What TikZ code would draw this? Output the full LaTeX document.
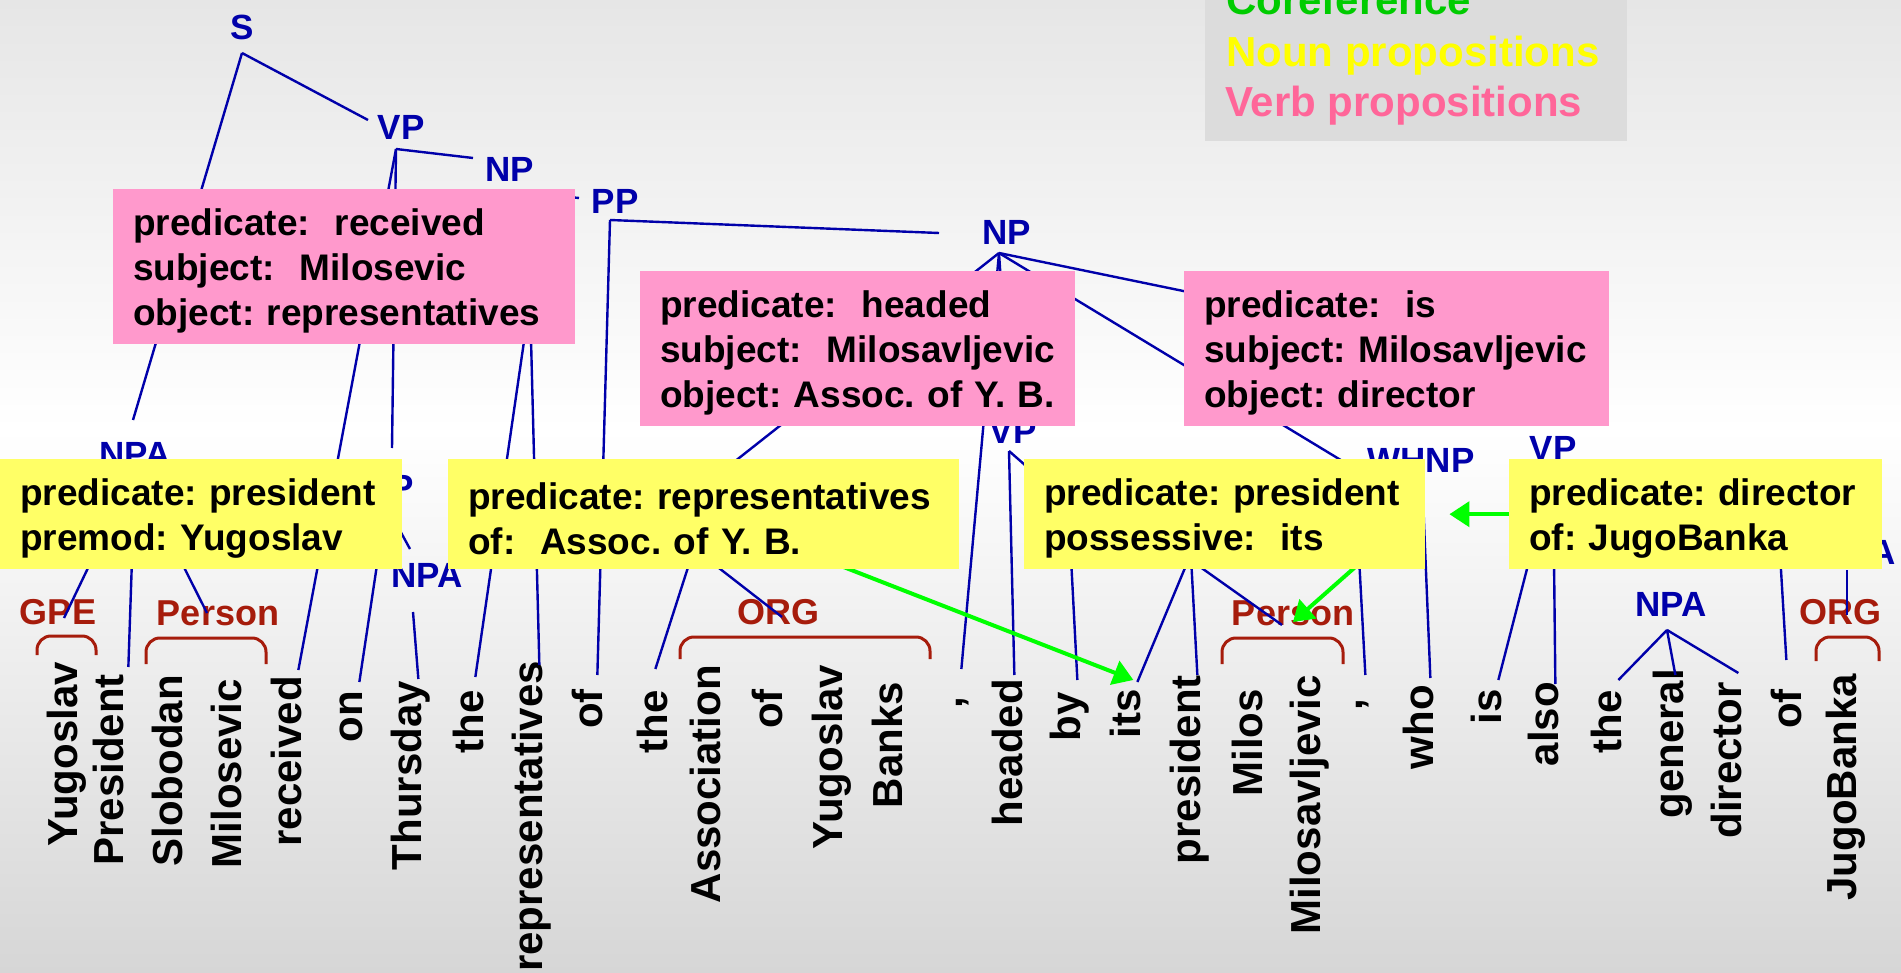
\documentclass[tikz,border=0pt]{standalone}
\usepackage{fontspec}
\setmainfont{Liberation Sans}
\usepackage{tikz}
\usetikzlibrary{arrows.meta, positioning, calc}

\definecolor{treeblue}{HTML}{0000AA}
\definecolor{entred}{HTML}{A61C0C}
\definecolor{verbpink}{HTML}{FF99CC}
\definecolor{nounyellow}{HTML}{FFFF66}
\definecolor{corefgreen}{HTML}{00FF00}
\definecolor{legendgreen}{HTML}{00CC00}
\definecolor{legendyellow}{HTML}{FFFF00}
\definecolor{legendpink}{HTML}{FF6699}
\definecolor{legendgrey}{HTML}{DCDCDC}
\definecolor{bgtop}{HTML}{E6E6E6}
\definecolor{bgbottom}{HTML}{D6D6D6}

\frenchspacing
\tikzset{
  cat/.style={text=treeblue, inner sep=0pt, font=\fontsize{35}{35}\selectfont\bfseries},
  ent/.style={text=entred, inner sep=0pt, font=\fontsize{36}{36}\selectfont\bfseries},
  word/.style={rotate=90, anchor=base east, inner sep=0pt, font=\fontsize{42}{42}\selectfont\bfseries},
  branch/.style={draw=treeblue, line width=2.4pt},
  bracket/.style={draw=entred, line width=3pt, rounded corners=14pt},
  coref/.style={draw=corefgreen, line width=4pt, -{Triangle[length=20pt, width=25pt]}},
  propbox/.style={anchor=north west, align=left, inner xsep=20pt, inner ysep=0pt,
    font={\fontsize{37}{45}\selectfont\bfseries\frenchspacing\hyphenpenalty=10000 },
    execute at begin node={\rule{0pt}{35pt}}},
  verb prop/.style={propbox, fill=verbpink, minimum height=155pt},
  noun prop/.style={propbox, fill=nounyellow, minimum height=110pt},
  legend/.style={anchor=base west, inner sep=0pt, font=\fontsize{42}{42}\selectfont\bfseries},
}

\begin{document}
\begin{tikzpicture}[x=1pt, y=-1pt]

    % background
    \useasboundingbox (0,0) rectangle (1901,973);
    \shade[top color=bgtop, bottom color=white] (0,0) rectangle (1901,430);
    \shade[top color=white, bottom color=bgbottom] (0,430) rectangle (1901,973);

    % legend
    \fill[legendgrey] (1205,-5) rectangle (1627,141);
    \node[legend, text=legendgreen] (leg-coref) at (1226,15) {Coreference};
    \node[legend, text=legendyellow] (leg-noun) at (1226,67) {Noun propositions};
    \node[legend, text=legendpink] (leg-verb) at (1225,117) {Verb propositions};

    % named entities
    \foreach \a/\b/\t/\e in {37/96/636/655, 146/266/638/664, 680/930/637/659,
                             1222/1343/638/664, 1816/1879/637/661}
    \draw[bracket] (\a,\e) -- (\a,\t) -- (\b,\t) -- (\b,\e);

    \node[ent] (gpe) at (58,612) {GPE};
    \node[ent] (per1) at (218,613) {Person};
    \node[ent] (org1) at (778,612) {ORG};
    \node[ent] (per2) at (1293,613) {Person};
    \node[ent] (org2) at (1840,612) {ORG};

    % parse tree categories
    \node[cat] (S) at (242,27) {S};
    \node[cat] (VP1) at (401,127) {VP};
    \node[cat] (NP1) at (510,169) {NP};
    \node[cat] (PP2) at (615,201) {PP};
    \node[cat] (NP2) at (1007,232) {NP};
    \node[cat] (NPA1) at (135,454) {NPA};
    \node[cat] (PP1) at (390,487) {PP};
    \node[cat] (NPA2) at (427,575) {NPA};
    \node[cat] (VP2) at (1013,431) {VP};
    \node[cat] (WHNP) at (1421,460) {WHNP};
    \node[cat] (VP3) at (1553,448) {VP};
    \node[cat] (NPA3) at (1671,604) {NPA};
    \node[cat] (NPA4) at (1860,552) {NPA};

    % sentence
    \foreach \t/\x/\y [count=\i] in {
        Yugoslav/77/662, President/123/674, Slobodan/182/675, Milosevic/241/679,
        received/301/676, on/362/691, Thursday/421/681, the/483/690,
        representatives/542/661, of/602/689, the/667/690, Association/720/665,
        of/782/689, Yugoslav/842/665, Banks/902/682, {,}/962/697,
        headed/1022/679, by/1080/692, its/1140/689, president/1200/675,
        Milos/1262/689, Milosavljevic/1320/675, {,}/1362/699, who/1433/685,
        is/1501/689, also/1558/682, the/1621/690, general/1683/669,
        director/1741/682, of/1801/689, JugoBanka/1856/674}
    \node[word] (w\i) at (\x,\y) {\t};

    % branch points (some lie under the proposition boxes)
    \coordinate (S-a) at (242,53);
    \coordinate (VP1-t) at (368,120);
    \coordinate (VP1-a) at (396,149);
    \coordinate (NPA1-t) at (133,420);
    \coordinate (NPA1-a) at (135,470);
    \coordinate (NP1-t) at (473,158);
    \coordinate (NP1-a) at (515,192);
    \coordinate (PP2-t) at (579,198);
    \coordinate (PP1-t) at (392,448);
    \coordinate (PP1-a) at (386,505);
    \coordinate (NPA2-t) at (410,549);
    \coordinate (NPA2-a) at (413,612);
    \coordinate (NP3-a) at (530,300);
    \coordinate (PP2-a) at (610,220);
    \coordinate (NP2-t) at (939,233);
    \coordinate (NP2-a) at (999,253);
    \coordinate (NP4-t) at (734,462);
    \coordinate (VP2-t) at (1010,418);
    \coordinate (VP2-a) at (1009,451);
    \coordinate (PP3-t) at (1050,487);
    \coordinate (SB-t) at (1377,482);
    \coordinate (NP5-t) at (1290,313);
    \coordinate (the-a) at (700,530);
    \coordinate (org-a) at (670,530);
    \coordinate (by-a) at (1068,500);
    \coordinate (its-a) at (1205,520);
    \coordinate (pres-a) at (1189,520);
    \coordinate (per-a) at (1148,530);
    \coordinate (comma-a) at (1357,520);
    \coordinate (WHNP-a) at (1422,474);
    \coordinate (VP3-a) at (1553,468);
    \coordinate (of-a) at (1778,520);
    \coordinate (NPA4-a) at (1847,570);
    \coordinate (NPA3-a) at (1667,630);
    \coordinate (g1) at (800,550);
    \coordinate (g2) at (1370,554);

    % tree
    \draw[branch] (S-a) -- (VP1-t);
    \draw[branch] (S-a) -- (NPA1-t);
    \draw[branch] (VP1-a) -- (NP1-t);
    \draw[branch] (VP1-a) -- (PP1-t);
    \draw[branch] (VP1-a) -- ([yshift=6pt]w5.mid east);
    \draw[branch] (NP1-a) -- (PP2-t);
    \draw[branch] (NP3-a) -- ([shift={(-5pt,13pt)}]w8.mid east);
    \draw[branch] (NP3-a) -- ([yshift=-4pt]w9.mid east);
    \draw[branch] (PP2-a) -- (NP2-t);
    \draw[branch] (PP2-a) -- ([shift={(-2pt,14pt)}]w10.mid east);
    \draw[branch] (NPA1-a) -- ([shift={(6pt,-6pt)}]gpe.center);
    \draw[branch] (NPA1-a) -- ([shift={(8pt,7pt)}]w2.mid east);
    \draw[branch] (NPA1-a) -- ([xshift=-11pt]per1.center);
    \draw[branch] (PP1-a) -- ([yshift=9pt]w6.mid east);
    \draw[branch] (PP1-a) -- (NPA2-t);
    \draw[branch] (NPA2-a) -- ([yshift=2pt]w7.mid east);
    \draw[branch] (NP2-a) -- (NP4-t);
    \draw[branch] (NP2-a) -- ([shift={(2pt,28pt)}]w16.mid east);
    \draw[branch] (NP2-a) -- (VP2-t);
    \draw[branch] (NP2-a) -- (SB-t);
    \draw[branch] (NP2-a) -- (NP5-t);
    \draw[branch] (VP2-a) -- ([shift={(-5pt,4pt)}]w17.mid east);
    \draw[branch] (VP2-a) -- (PP3-t);
    \draw[branch] (the-a) -- ([shift={(-9pt,21pt)}]w11.mid east);
    \draw[branch] (org-a) -- ([shift={(4pt,-5pt)}]org1.center);
    \draw[branch] (by-a) -- ([yshift=12pt]w18.mid east);
    \draw[branch] (its-a) -- ([yshift=7pt]w19.mid east);
    \draw[branch] (pres-a) -- (w20.mid east);
    \draw[branch] (per-a) -- ([shift={(-11pt,-12pt)}]per2.center);
    \draw[branch] (comma-a) -- ([shift={(6pt,24pt)}]w23.mid east);
    \draw[branch] (WHNP-a) -- ([yshift=7pt]w24.mid east);
    \draw[branch] (VP3-a) -- ([yshift=9pt]w25.mid east);
    \draw[branch] (VP3-a) -- ([yshift=-2pt]w26.mid east);
    \draw[branch] (NPA3-a) -- ([yshift=10pt]w27.mid east);
    \draw[branch] (NPA3-a) -- ([shift={(-5pt,-6pt)}]w28.mid east);
    \draw[branch] (NPA3-a) -- ([yshift=9pt]w29.mid east);
    \draw[branch] (of-a) -- ([shift={(-12pt,29pt)}]w30.mid east);
    \draw[branch] (NPA4-a) -- ([shift={(7pt,-3pt)}]org2.center);

    % coreference
    \draw[coref] (g1) -- ([shift={(-4pt,9pt)}]w19.mid east);
    \draw[coref] (g2) -- ([yshift=-9pt]per2.center);

    % verb propositions
    \node[verb prop, text width=422pt] (R1) at (113,189)
        {predicate:\ \ received\\subject:\ \ Milosevic\\object: representatives};
    \node[verb prop, text width=395pt] (R2) at (640,271)
        {predicate:\ \ headed\\subject:\ \ Milosavljevic\\object: Assoc. of Y. B.};
    \node[verb prop, text width=385pt] (R3) at (1184,271)
        {predicate:\ \ is\\subject: Milosavljevic\\object: director};

    % noun propositions
    \node[noun prop, text width=362pt] (Y1) at (0,459)
        {predicate: president\\premod: Yugoslav};
    \node[noun prop, text width=471pt] (Y2) at (448,459)
        {predicate: representatives\\of:\ \ Assoc. of Y. B.};
    \node[noun prop, text width=361pt] (Y3) at (1024,459)
        {predicate: president\\possessive:\ \ its};
    \node[noun prop, text width=333pt] (Y4) at (1509,459)
        {predicate: director\\of: JugoBanka};

    \draw[coref] (Y4.west) -- ([xshift=24pt]Y3.east);

\end{tikzpicture}
\end{document}
